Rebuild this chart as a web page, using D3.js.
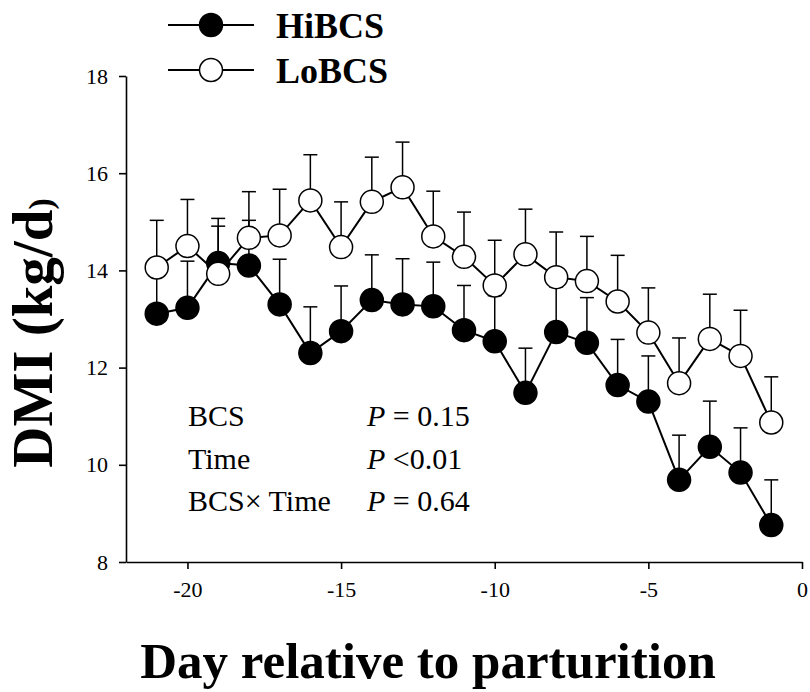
<!DOCTYPE html>
<html>
<head>
<meta charset="utf-8">
<script src="https://cdn.jsdelivr.net/npm/d3@7"></script>
<style>
  html, body { margin: 0; padding: 0; background: #fff; }
  svg { display: block; }
</style>
</head>
<body>
<svg id="chart" width="810" height="692"></svg>
<script>
// ---- data ----
const days = [-21, -20, -19, -18, -17, -16, -15, -14, -13, -12, -11, -10, -9, -8, -7, -6, -5, -4, -3, -2, -1];
const hiMean = [13.11, 13.23, 14.15, 14.10, 13.30, 12.30, 12.75, 13.39, 13.30, 13.26, 12.77, 12.54, 11.48, 12.73, 12.51, 11.64, 11.30, 9.69, 10.37, 9.84, 8.76];
const hiSE   = [0.95, 0.96, 0.92, 0.93, 0.93, 0.95, 0.93, 0.93, 0.94, 0.91, 0.92, 0.94, 0.92, 0.93, 0.93, 0.94, 0.94, 0.92, 0.94, 0.92, 0.93];
const loMean = [14.06, 14.50, 13.93, 14.67, 14.72, 15.44, 14.48, 15.41, 15.71, 14.70, 14.28, 13.69, 14.33, 13.86, 13.78, 13.36, 12.72, 11.68, 12.59, 12.24, 10.87];
const loSE   = [0.97, 0.96, 0.98, 0.95, 0.95, 0.94, 0.93, 0.92, 0.93, 0.93, 0.92, 0.93, 0.93, 0.93, 0.92, 0.95, 0.92, 0.93, 0.92, 0.94, 0.94];
const xTicks = [-20, -15, -10, -5, 0];
const yTicks = [8, 10, 12, 14, 16, 18];
const seriesNames = ["HiBCS", "LoBCS"];
const statLabels = ["BCS", "Time", "BCS\u00D7 Time"];
const statOps = ["= 0.15", "<0.01", "= 0.64"];

// ---- layout ----
const FONT = "'Liberation Serif', 'Times New Roman', Times, serif";
const svg = d3.select("#chart").attr("font-family", FONT);
const x = d3.scaleLinear().domain([-22, 0]).range([126, 802]);
const y = d3.scaleLinear().domain([8, 18]).range([562, 76]);
const R = 11.5, CAP = 7;

// axes
const yAxis = svg.append("g").attr("transform", `translate(${x(-22)},0)`)
  .call(d3.axisLeft(y).tickValues(yTicks).tickSize(7).tickSizeOuter(0).tickPadding(11).tickFormat(d3.format("d")));
const xAxis = svg.append("g").attr("transform", `translate(0,${y(8)})`)
  .call(d3.axisBottom(x).tickValues(xTicks).tickSize(7).tickSizeOuter(0).tickPadding(12).tickFormat(d => d3.format("d")(d).replace("\u2212", "-")));
[yAxis, xAxis].forEach(g => {
  g.attr("font-family", FONT).attr("font-size", 22);
  g.selectAll("path.domain").attr("stroke", "#000").attr("stroke-width", 1.6);
  g.selectAll(".tick line").attr("stroke", "#000").attr("stroke-width", 1.6);
  g.selectAll(".tick text").attr("font-family", FONT).attr("font-size", 22).attr("fill", "#000");
});

function drawSeries(mean, se, filled) {
  const pts = days.map((d, i) => ({ d, m: mean[i], s: se[i] }));
  const g = svg.append("g");
  const eb = g.append("g").attr("stroke", "#000").attr("stroke-width", 1.5);
  eb.selectAll("line.v").data(pts).join("line").attr("class", "v")
    .attr("x1", p => x(p.d)).attr("x2", p => x(p.d))
    .attr("y1", p => y(p.m)).attr("y2", p => y(p.m + p.s));
  eb.selectAll("line.c").data(pts).join("line").attr("class", "c")
    .attr("x1", p => x(p.d) - CAP).attr("x2", p => x(p.d) + CAP)
    .attr("y1", p => y(p.m + p.s)).attr("y2", p => y(p.m + p.s));
  g.append("path").datum(pts)
    .attr("fill", "none").attr("stroke", "#000").attr("stroke-width", 2)
    .attr("d", d3.line().x(p => x(p.d)).y(p => y(p.m)));
  g.selectAll("circle").data(pts).join("circle")
    .attr("cx", p => x(p.d)).attr("cy", p => y(p.m)).attr("r", R)
    .attr("fill", filled ? "#000" : "#fff").attr("stroke", "#000").attr("stroke-width", 1.5);
}
drawSeries(hiMean, hiSE, true);
drawSeries(loMean, loSE, false);

// legend
const leg = svg.append("g");
seriesNames.forEach((name, i) => {
  const ly = 25 + i * 45;
  leg.append("line").attr("x1", 168).attr("x2", 254).attr("y1", ly).attr("y2", ly)
    .attr("stroke", "#000").attr("stroke-width", 2);
  leg.append("circle").attr("cx", 211).attr("cy", ly).attr("r", 11.5)
    .attr("fill", i === 0 ? "#000" : "#fff").attr("stroke", "#000").attr("stroke-width", 1.5);
  leg.append("text").attr("x", 276).attr("y", ly + 12.5).attr("font-family", FONT)
    .attr("font-size", 36).attr("font-weight", "bold").text(name);
});

// stats annotation
statLabels.forEach((lab, i) => {
  const by = 426 + i * 42.5;
  svg.append("text").attr("x", 188).attr("y", by).attr("font-family", FONT).attr("font-size", 30).text(lab);
  const t = svg.append("text").attr("x", 367).attr("y", by).attr("font-family", FONT).attr("font-size", 30);
  t.append("tspan").attr("font-style", "italic").text("P");
  t.append("tspan").text(" " + statOps[i]);
});

// axis titles
svg.append("text").attr("x", 428).attr("y", 678).attr("text-anchor", "middle").attr("font-family", FONT)
  .attr("font-size", 51).attr("font-weight", "bold").text("Day relative to parturition");
const yt = svg.append("text").attr("transform", "translate(52,333) rotate(-90)").attr("text-anchor", "middle")
  .attr("font-family", FONT).attr("font-size", 57).attr("font-weight", "bold");
yt.append("tspan").text("DMI (kg/d");
yt.append("tspan").attr("font-size", 34).text(")");
</script>
</body>
</html>
